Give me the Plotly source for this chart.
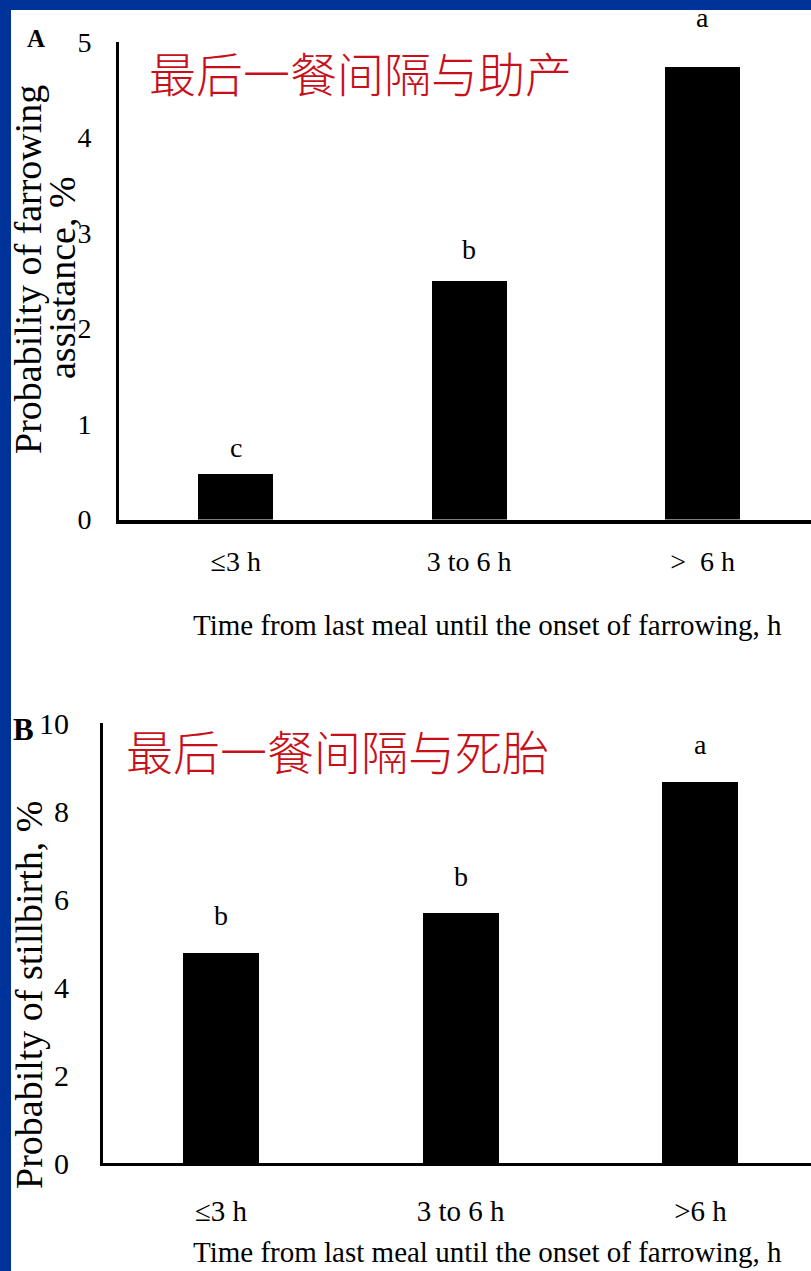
import plotly.graph_objects as go

# ---- data ----
categories_a = ["≤3 h", "3 to 6 h", ">  6 h"]
assist_pct = [0.48, 2.50, 4.74]
assist_letters = ["c", "b", "a"]

categories_b = ["≤3 h", "3 to 6 h", ">6 h"]
stillbirth_pct = [4.77, 5.68, 8.66]
stillbirth_letters = ["b", "b", "a"]

W, H = 811, 1271
SERIF = "Liberation Serif"
CJK = "Noto Sans CJK SC"
RED = "#C8101A"
BLUE = "#003399"


def px(x):
    return x / W


def py(y):
    return 1 - y / H


fig = go.Figure()

fig.add_trace(go.Bar(
    x=[0, 1, 2], y=assist_pct, width=0.321,
    marker=dict(color="black", line=dict(width=0)),
    xaxis="x", yaxis="y", showlegend=False, hoverinfo="y",
))
fig.add_trace(go.Bar(
    x=[0, 1, 2], y=stillbirth_pct, width=0.317,
    marker=dict(color="black", line=dict(width=0)),
    xaxis="x2", yaxis="y2", showlegend=False, hoverinfo="y",
))

axis_common = dict(showgrid=False, zeroline=False, showline=True,
                   linecolor="black", ticks="", fixedrange=True,
                   automargin=False)

fig.update_layout(
    width=W, height=H, autosize=False,
    margin=dict(l=0, r=0, t=0, b=0, pad=0, autoexpand=False),
    paper_bgcolor="white", plot_bgcolor="white",
    font=dict(family=SERIF, color="black"),
    bargap=0,
    xaxis=dict(**axis_common, domain=[px(119), 1], anchor="y",
               range=[-0.5, 2.464], linewidth=4,
               tickmode="array", tickvals=[0, 1, 2], ticktext=categories_a,
               tickfont=dict(size=28), ticklabelstandoff=14),
    yaxis=dict(**axis_common, domain=[py(519.5), py(42)], anchor="x",
               range=[0, 5], linewidth=3, dtick=1,
               tickfont=dict(size=28), ticklabelstandoff=19),
    xaxis2=dict(**axis_common, domain=[px(103), 1], anchor="y2",
                range=[-0.492, 2.461], linewidth=3,
                tickmode="array", tickvals=[0, 1, 2], ticktext=categories_b,
                tickfont=dict(size=29), ticklabelstandoff=20),
    yaxis2=dict(**axis_common, domain=[py(1163), py(723)], anchor="x2",
                range=[0, 10], linewidth=3, dtick=2,
                tickfont=dict(size=30), ticklabelstandoff=25),
)

annotations = []

# significance letters above the bars
shift_a = [26, 31, 49]
for i, (v, t) in enumerate(zip(assist_pct, assist_letters)):
    annotations.append(dict(x=i, y=v, xref="x", yref="y", text=t,
                            yshift=shift_a[i], font=dict(size=28)))
shift_b = [38, 37, 37]
for i, (v, t) in enumerate(zip(stillbirth_pct, stillbirth_letters)):
    annotations.append(dict(x=i, y=v, xref="x2", yref="y2", text=t,
                            yshift=shift_b[i], font=dict(size=28)))

x_title = "Time from last meal until the onset of farrowing, h"
annotations += [
    # panel letters
    dict(x=px(36), y=py(38), text="<b>A</b>", font=dict(size=25)),
    dict(x=px(23), y=py(729), text="<b>B</b>", font=dict(size=31)),
    # red captions
    dict(x=px(147), y=py(71), xanchor="left", text="最后一餐间隔与助产",
         font=dict(family=CJK, size=47, color=RED, weight=300)),
    dict(x=px(124), y=py(749), xanchor="left", text="最后一餐间隔与死胎",
         font=dict(family=CJK, size=47, color=RED, weight=300)),
    # x-axis titles
    dict(x=px(488), y=py(625), text=x_title, font=dict(size=29)),
    dict(x=px(487), y=py(1252), text=x_title, font=dict(size=29)),
    # y-axis titles
    dict(x=px(28), y=py(270), text="Probability of farrowing",
         textangle=-90, font=dict(size=38)),
    dict(x=px(62), y=py(278), text="assistance, %",
         textangle=-90, font=dict(size=38)),
    dict(x=px(29), y=py(995), text="Probabilty of stillbirth, %",
         textangle=-90, font=dict(size=38)),
]
for a in annotations:
    a.setdefault("xref", "paper")
    a.setdefault("yref", "paper")
    a.setdefault("xanchor", "center")
    a.setdefault("yanchor", "middle")
    a["showarrow"] = False
fig.update_layout(annotations=annotations)

# slide frame: blue band along the top and left edges
fig.update_layout(shapes=[
    dict(type="rect", xref="paper", yref="paper", x0=0, x1=1,
         y0=py(10), y1=1, fillcolor=BLUE, line=dict(width=0), layer="above"),
    dict(type="rect", xref="paper", yref="paper", x0=0, x1=px(11),
         y0=0, y1=1, fillcolor=BLUE, line=dict(width=0), layer="above"),
])

fig.write_html("out.html")
